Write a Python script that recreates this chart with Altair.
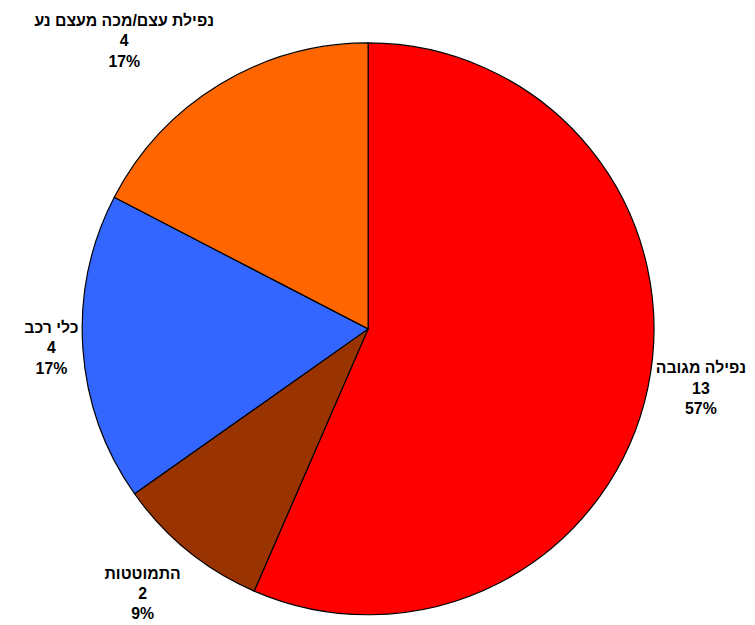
import altair as alt
import pandas as pd

categories = ["נפילה מגובה", "התמוטטות", "כלי רכב", "נפילת עצם/מכה מעצם נע"]
values = [13, 2, 4, 4]
colors = ["#FF0000", "#993300", "#3366FF", "#FF6600"]

df = pd.DataFrame({"name": categories, "value": values, "idx": list(range(len(values)))})

CX, CY, R = 364, 321, 289
GAP, DIAG = 0, 40
CHAR_W = 8.3
LH = 20.5

base = alt.Chart(df)

arcs = base.mark_arc(outerRadius=R, stroke="black", strokeWidth=1.2).encode(
    x=alt.value(CX),
    y=alt.value(CY),
    theta=alt.Theta("value:Q", stack=True),
    order=alt.Order("idx:Q"),
    color=alt.Color("name:N", scale=alt.Scale(domain=categories, range=colors), legend=None),
)

labels = base.transform_window(
    cum="sum(value)", sort=[alt.SortField("idx")], frame=[None, 0]
).transform_joinaggregate(
    total="sum(value)"
).transform_calculate(
    mid="(datum.cum - datum.value / 2) / datum.total * 2 * PI",
    pct="format(datum.value / datum.total, '.0%')",
).transform_calculate(
    sx="sin(datum.mid)", sy="-cos(datum.mid)",
    hw=f"max(length(datum.name), length(datum.pct)) * {CHAR_W} / 2",
).transform_calculate(
    lr=f"{R} + {GAP} + {DIAG} * abs(datum.sx * datum.sy)",
).transform_calculate(
    lx=f"{CX} + datum.lr * datum.sx + (datum.sx > 0.1 ? datum.hw : (datum.sx < -0.1 ? -datum.hw : 0))",
    ly=f"{CY} + datum.lr * datum.sy - (datum.sy < -0.5 ? 2 * {LH} : (datum.sy > 0.5 ? 0 : {LH}))",
    label="datum.name + '\\n' + datum.value + '\\n' + datum.pct",
).mark_text(
    font="Liberation Sans, Arial, sans-serif",
    fontSize=16,
    fontWeight="bold",
    lineHeight=LH,
    lineBreak="\n",
    color="black",
    align="center",
    baseline={"expr": "datum.sy > 0.5 ? 'top' : (datum.sy < -0.5 ? 'bottom' : 'middle')"},
).encode(
    x=alt.X("lx:Q", scale=None, axis=None),
    y=alt.Y("ly:Q", scale=None, axis=None),
    text="label:N",
)

chart = alt.layer(arcs, labels).properties(
    width=747, height=617, autosize=alt.AutoSizeParams(type="none"), padding=0, background="white"
).configure_view(strokeWidth=0)

chart.save("out.html", embed_options={"renderer": "svg", "actions": False})
